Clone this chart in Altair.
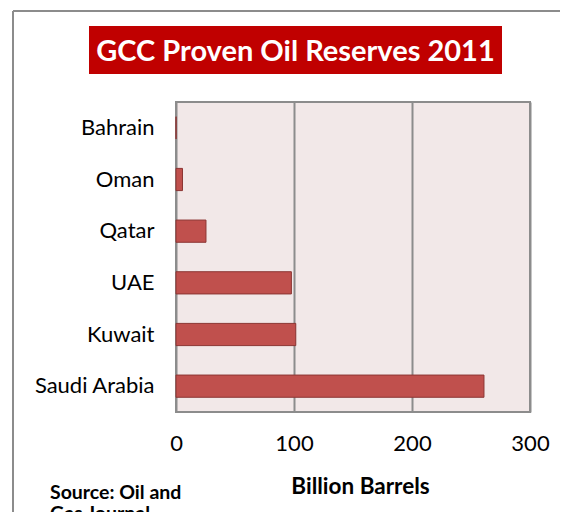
import altair as alt
import pandas as pd

countries = ["Bahrain", "Oman", "Qatar", "UAE", "Kuwait", "Saudi Arabia"]
reserves = [0.1, 5.5, 25.4, 97.8, 101.5, 261.0]
x_ticks = [0, 100, 200, 300]
title_text = "GCC Proven Oil Reserves 2011"
x_title = "Billion Barrels"
source_lines = ["Source: Oil and", "Gas Journal"]

df = pd.DataFrame({"country": countries, "value": reserves})
one = pd.DataFrame({"d": [0]})

FONT = "Lato"

bars = alt.Chart(df).mark_bar(
    color="#C0504D", stroke="#8C3533", strokeWidth=1
).encode(
    y=alt.Y("country:N", sort=countries,
            scale=alt.Scale(paddingInner=0.57, paddingOuter=0.285),
            axis=alt.Axis(title=None, labelFont=FONT, labelFontSize=22,
                          labelColor="#000000", labelPadding=22, ticks=False,
                          domain=False, grid=False)),
    x=alt.X("value:Q", scale=alt.Scale(domain=[0, 300], nice=False),
            axis=alt.Axis(values=x_ticks, title=x_title, titleFont=FONT,
                          titleFontSize=22.5, titleFontWeight="bold",
                          titleColor="#000000", titleX=184, titleY=74,
                          titleBaseline="middle",
                          labelFont=FONT, labelFontSize=22, labelColor="#000000",
                          labelPadding=21, labelFlush=False, ticks=False,
                          domain=False, grid=True, gridColor="#8c8c8c",
                          gridWidth=2)),
)

title_box = alt.Chart(one).mark_rect(color="#C00000").encode(
    x=alt.value(-87), x2=alt.value(326), y=alt.value(-76), y2=alt.value(-28)
)
title_txt = alt.Chart(one).mark_text(
    font=FONT, fontSize=29, fontWeight="bold", color="#FFFFFF",
    align="center", baseline="middle"
).encode(x=alt.value(119.5), y=alt.value(-50), text=alt.value(title_text))

border_left = alt.Chart(one).mark_rule(color="#8c8c8c", strokeWidth=2).encode(
    x=alt.value(-163), y=alt.value(-91), y2=alt.value(520)
)
border_top = alt.Chart(one).mark_rule(color="#8c8c8c", strokeWidth=2).encode(
    x=alt.value(-163), x2=alt.value(420), y=alt.value(-91)
)

source = alt.Chart(one).mark_text(
    font=FONT, fontSize=19.5, fontWeight="bold", color="#000000",
    align="left", baseline="middle", lineHeight=21
).encode(x=alt.value(-126), y=alt.value(391), text=alt.value(source_lines))

chart = alt.layer(
    border_left, border_top, bars, title_box, title_txt, source
).properties(
    width=354, height=310,
    autosize=alt.AutoSizeParams(type="none"),
    padding={"left": 168, "top": 94, "right": 30, "bottom": 100},
    background="#FFFFFF",
).configure_view(
    fill="#F2E8E8", stroke="#8c8c8c", strokeWidth=2
)

chart.save("out.html", embed_options={"renderer": "svg", "actions": False})
